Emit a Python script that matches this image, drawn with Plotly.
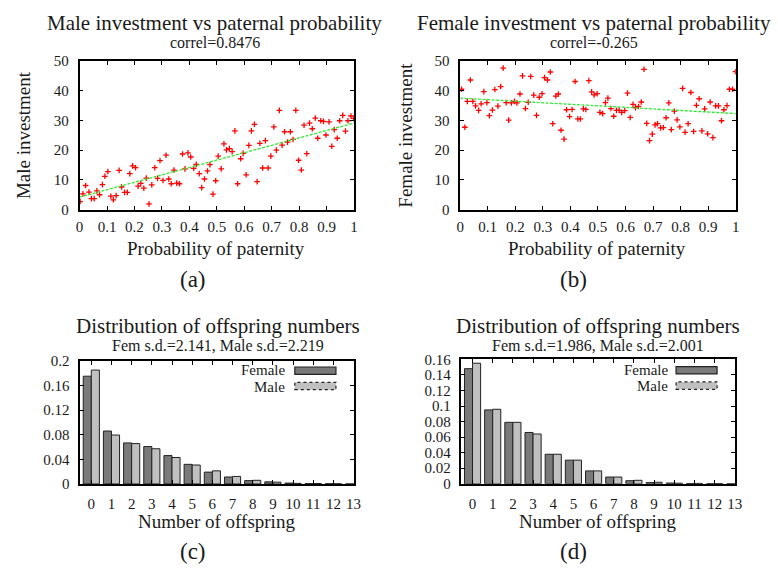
import plotly.graph_objects as go

# ---------------- data ----------------
pat_a = [0.002, 0.012, 0.022, 0.034, 0.043, 0.053, 0.063, 0.073, 0.083, 0.092,
         0.103, 0.114, 0.123, 0.133, 0.144, 0.153, 0.164, 0.174, 0.183, 0.193,
         0.204, 0.213, 0.223, 0.234, 0.243, 0.253, 0.263, 0.274, 0.284, 0.293,
         0.304, 0.315, 0.325, 0.334, 0.344, 0.354, 0.364, 0.375, 0.384, 0.395,
         0.405, 0.416, 0.425, 0.436, 0.445, 0.455, 0.466, 0.475, 0.486, 0.496,
         0.505, 0.516, 0.526, 0.535, 0.546, 0.556, 0.566, 0.576, 0.587, 0.596,
         0.607, 0.617, 0.626, 0.637, 0.647, 0.657, 0.667, 0.677, 0.687, 0.697,
         0.708, 0.717, 0.728, 0.738, 0.747, 0.758, 0.768, 0.778, 0.788, 0.798,
         0.808, 0.818, 0.828, 0.838, 0.848, 0.859, 0.868, 0.879, 0.889, 0.898,
         0.909, 0.919, 0.928, 0.939, 0.948, 0.959, 0.969, 0.978, 0.989, 0.999]
male_inv = [2.7, 5.3, 8.1, 5.9, 3.7, 3.7, 6.3, 5.0, 8.4, 11.2,
            12.8, 4.5, 3.3, 4.7, 13.2, 7.6, 5.8, 5.8, 12.1, 14.7,
            14.1, 7.9, 8.8, 7.2, 10.6, 1.9, 8.3, 14.1, 10.5, 16.5,
            9.8, 18.3, 10.3, 8.7, 13.3, 8.9, 8.7, 18.7, 13.7, 19.1,
            17.7, 13.9, 15.2, 12.1, 7.4, 10.3, 13.0, 15.1, 5.2, 9.7,
            18.0, 13.7, 22.1, 20.1, 20.5, 19.5, 26.5, 8.7, 17.1, 18.9,
            11.7, 21.6, 26.5, 28.7, 9.4, 22.3, 14.0, 23.2, 14.0, 18.0,
            27.8, 20.0, 33.4, 21.7, 26.2, 22.7, 26.2, 23.6, 33.4, 16.6,
            13.3, 28.4, 18.8, 29.1, 27.2, 30.8, 24.0, 29.9, 29.7, 25.1,
            29.5, 21.3, 26.9, 24.0, 29.9, 31.7, 26.4, 29.9, 31.5, 30.7]
fit_x = [0.0, 1.0]
fit_male = [4.2, 29.1]

pat_b = [0.005, 0.017, 0.026, 0.037, 0.046, 0.056, 0.067, 0.076, 0.086, 0.097,
         0.106, 0.117, 0.126, 0.137, 0.147, 0.156, 0.167, 0.176, 0.186, 0.197,
         0.206, 0.217, 0.226, 0.237, 0.247, 0.256, 0.267, 0.277, 0.287, 0.297,
         0.306, 0.317, 0.327, 0.336, 0.347, 0.356, 0.366, 0.377, 0.386, 0.397,
         0.406, 0.417, 0.427, 0.436, 0.447, 0.456, 0.467, 0.477, 0.486, 0.497,
         0.507, 0.517, 0.527, 0.536, 0.547, 0.557, 0.567, 0.577, 0.586, 0.597,
         0.607, 0.617, 0.627, 0.636, 0.647, 0.657, 0.667, 0.677, 0.687, 0.697,
         0.707, 0.716, 0.727, 0.737, 0.747, 0.757, 0.766, 0.777, 0.787, 0.797,
         0.807, 0.816, 0.827, 0.837, 0.847, 0.857, 0.867, 0.877, 0.887, 0.898,
         0.907, 0.917, 0.927, 0.937, 0.948, 0.957, 0.968, 0.977, 0.988, 0.999]
female_inv = [40.5, 27.7, 36.4, 43.6, 36.4, 34.9, 33.4, 35.6, 39.7, 36.0,
              31.6, 33.5, 40.4, 34.8, 41.4, 47.6, 36.0, 30.1, 35.9, 36.4,
              35.9, 38.9, 45.0, 34.0, 36.1, 44.8, 38.5, 31.7, 37.8, 39.0,
              44.4, 43.6, 46.3, 28.9, 38.2, 38.9, 26.7, 23.7, 33.6, 31.3,
              33.7, 43.1, 30.5, 30.5, 33.9, 33.7, 43.4, 39.6, 38.6, 39.0,
              32.7, 32.3, 36.0, 37.5, 34.0, 31.4, 33.4, 33.4, 32.7, 33.3,
              39.2, 31.0, 35.4, 34.3, 34.7, 36.2, 47.2, 29.0, 23.2, 25.4,
              28.5, 28.9, 27.5, 27.6, 30.9, 35.9, 26.9, 33.1, 30.2, 27.8,
              40.8, 26.0, 28.9, 39.4, 26.3, 35.1, 37.3, 26.5, 33.9, 25.5,
              36.2, 24.2, 34.9, 34.9, 29.9, 33.6, 35.0, 40.5, 40.5, 46.4]
fit_female = [37.5, 32.3]

offspring = list(range(14))
tick_labels = [str(k) for k in offspring]
c_female = [0.175, 0.086, 0.0667, 0.0608, 0.0461, 0.0319, 0.0193, 0.0114,
            0.0055, 0.0035, 0.0015, 0.0007, 0.0004, 0.0]
c_male = [0.185, 0.0795, 0.0656, 0.0572, 0.043, 0.0308, 0.0213, 0.0123,
          0.006, 0.003, 0.001, 0.0008, 0.0003, 0.0]
d_female = [0.148, 0.095, 0.079, 0.066, 0.038, 0.0304, 0.0166, 0.0087,
            0.004, 0.0015, 0.001, 0.0004, 0.0002, 0.0]
d_male = [0.155, 0.0958, 0.079, 0.064, 0.038, 0.0304, 0.0166, 0.0087,
          0.0045, 0.002, 0.0008, 0.0005, 0.0003, 0.0]

# ---------------- styling helpers ----------------
W, H = 778, 580
FONT = "Liberation Serif"
TXT = "#1a1a1a"
FEM_COL = "#7a7a7a"
MAL_COL = "#c0c0c0"


def px(x):
    return x / W


def py(y):
    return 1 - y / H


def axis(domain, anchor, **kw):
    d = dict(domain=domain, anchor=anchor, showline=True, linecolor="black",
             linewidth=1.5, mirror="ticks", ticks="inside", ticklen=4,
             tickwidth=1, tickcolor="black", showgrid=False, zeroline=False,
             tickfont=dict(family=FONT, size=15, color=TXT))
    d.update(kw)
    return d


fig = go.Figure()

cross = dict(symbol="cross-thin", size=4, color="red",
             line=dict(color="red", width=1.3))
fit_line = dict(color="#2ee82e", width=1.3, dash="3px,1.5px")

fig.add_trace(go.Scatter(x=pat_a, y=male_inv, mode="markers", marker=cross,
                         xaxis="x", yaxis="y", showlegend=False))
fig.add_trace(go.Scatter(x=fit_x, y=fit_male, mode="lines", line=fit_line,
                         xaxis="x", yaxis="y", showlegend=False))
fig.add_trace(go.Scatter(x=pat_b, y=female_inv, mode="markers", marker=cross,
                         xaxis="x2", yaxis="y2", showlegend=False))
fig.add_trace(go.Scatter(x=fit_x, y=fit_female, mode="lines", line=fit_line,
                         xaxis="x2", yaxis="y2", showlegend=False))

bar_line = dict(color="#222222", width=1)
fig.add_trace(go.Bar(x=offspring, y=c_female, name="Female", marker_color=FEM_COL,
                     marker_line=bar_line, xaxis="x3", yaxis="y3",
                     offsetgroup="f", showlegend=False))
fig.add_trace(go.Bar(x=offspring, y=c_male, name="Male", marker_color=MAL_COL,
                     marker_line=bar_line, xaxis="x3", yaxis="y3",
                     offsetgroup="m", showlegend=False))
fig.add_trace(go.Bar(x=offspring, y=d_female, name="Female", marker_color=FEM_COL,
                     marker_line=bar_line, xaxis="x4", yaxis="y4",
                     offsetgroup="f", showlegend=False))
fig.add_trace(go.Bar(x=offspring, y=d_male, name="Male", marker_color=MAL_COL,
                     marker_line=bar_line, xaxis="x4", yaxis="y4",
                     offsetgroup="m", showlegend=False))

dom_a_x = [px(76.7), px(355)]
dom_b_x = [px(462.7), px(742.3)]
dom_ab_y = [py(207.3), py(54.5)]
dom_c_x = [px(77.3), px(355)]
dom_d_x = [px(464), px(741.7)]
dom_c_y = [py(489.5), py(362.8)]
dom_d_y = [py(489.3), py(361.3)]

sc_x = dict(range=[0, 1], dtick=0.1, tick0=0, ticklabelstandoff=3)
sc_y = dict(range=[0, 50], dtick=10, tick0=0, ticklabelstandoff=6)
bar_x = dict(range=[-0.55, 13.02], tickvals=offspring, ticktext=tick_labels,
             ticklabelstandoff=5)

fig.update_layout(
    width=W, height=H, margin=dict(l=0, r=0, t=0, b=0),
    paper_bgcolor="white", plot_bgcolor="white",
    barmode="group", bargap=0.2, bargroupgap=0.0,
    xaxis=axis(dom_a_x, "y", **sc_x),
    yaxis=axis(dom_ab_y, "x", **sc_y),
    xaxis2=axis(dom_b_x, "y2", **sc_x),
    yaxis2=axis(dom_ab_y, "x2", **sc_y),
    xaxis3=axis(dom_c_x, "y3", **bar_x),
    yaxis3=axis(dom_c_y, "x3", range=[0, 0.2], dtick=0.04, tick0=0,
                ticklabelstandoff=6),
    xaxis4=axis(dom_d_x, "y4", **bar_x),
    yaxis4=axis(dom_d_y, "x4", range=[0, 0.16], dtick=0.02, tick0=0,
                ticklabelstandoff=6),
)

ann = []


def text(x, y, s, size, angle=0, xanchor="center"):
    ann.append(dict(x=px(x), y=py(y), xref="paper", yref="paper", text=s,
                    showarrow=False, xanchor=xanchor, yanchor="middle",
                    textangle=angle, borderpad=0,
                    font=dict(family=FONT, size=size, color=TXT)))


# titles
text(214, 15, "Male investment vs paternal probability", 21)
text(214, 35, "correl=0.8476", 16)
text(598, 15, "Female investment vs paternal probability", 21)
text(598, 35, "correl=-0.265", 16)
text(217, 327, "Distribution of offspring numbers", 21)
text(217, 347, "Fem s.d.=2.141, Male s.d.=2.219", 16)
text(603, 327, "Distribution of offspring numbers", 21)
text(603, 347, "Fem s.d.=1.986, Male s.d.=2.001", 16)
# axis titles
text(20, 131, "Male investment", 19, angle=-90)
text(407, 131, "Female investment", 19, angle=-90)
text(215, 247, "Probability of paternity", 19)
text(602, 247, "Probability of paternity", 19)
text(216, 528, "Number of offspring", 19)
text(602, 528, "Number of offspring", 19)
# panel labels
text(192, 279, "(a)", 23)
text(578, 279, "(b)", 23)
text(192, 559, "(c)", 23)
text(578, 559, "(d)", 23)
# legends
text(286, 372.5, "Female", 15, xanchor="right")
text(286, 389.5, "Male", 15, xanchor="right")
text(675, 372.0, "Female", 15, xanchor="right")
text(675, 389.0, "Male", 15, xanchor="right")

shapes = []
for (x0, x1, yf, ym) in [(295, 336.7, 373, 388.7), (681.7, 723.3, 372.5, 388.3)]:
    shapes.append(dict(type="rect", xref="paper", yref="paper",
                       x0=px(x0), x1=px(x1), y0=py(yf + 3.8), y1=py(yf - 3.8),
                       fillcolor=FEM_COL, line=dict(color="#222222", width=1.2)))
    shapes.append(dict(type="rect", xref="paper", yref="paper",
                       x0=px(x0), x1=px(x1), y0=py(ym + 3.8), y1=py(ym - 3.8),
                       fillcolor=MAL_COL, line=dict(color="#222222", width=1.2, dash="dot")))

fig.update_layout(annotations=ann, shapes=shapes)
fig.write_html("out.html")
